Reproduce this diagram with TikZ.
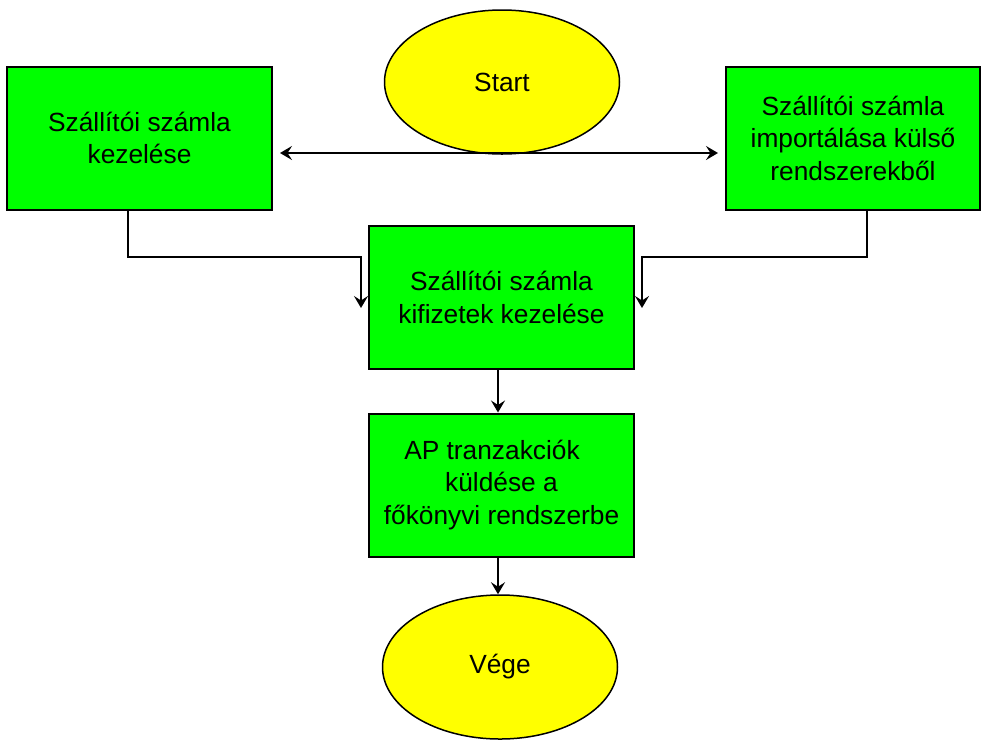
\documentclass[tikz,border=0pt]{standalone}
\usepackage{fontspec}
\setmainfont{Liberation Sans}
\usetikzlibrary{arrows.meta,shapes.geometric}
\definecolor{boxgreen}{RGB}{0,255,0}
\definecolor{termyellow}{RGB}{255,255,0}
\begin{document}
\begin{tikzpicture}[x=1pt,y=-1pt,
  >={Stealth[length=12pt,width=14pt,inset=4.5pt]},
  proc/.style={draw=black, line width=2pt, fill=boxgreen, align=center,
    minimum width=264pt, minimum height=143pt, inner sep=0pt,
    font=\fontsize{26.3}{32.5}\selectfont},
  term/.style={ellipse, draw=black, line width=1.5pt, fill=termyellow,
    minimum width=235pt, minimum height=144pt, inner sep=0pt,
    font=\fontsize{26.3}{32}\selectfont},
  conn/.style={line width=2pt, ->}]
\useasboundingbox (0,0) rectangle (982,740);

% terminators
\node[term] (start) at (502,82) {Start};
\node[term] (end) at (500,667) {Vége};

% process boxes
\node[proc, minimum width=265pt] (left) at (139.5,138) {Szállítói számla\\kezelése};
\node[proc, minimum width=254pt] (right) at (853,138) {Szállítói számla\\importálása külső\\rendszerekből};
\node[proc, minimum width=265pt] (mid) at (501.5,297.5) {Szállítói számla\\kifizetek kezelése};
\node[proc, minimum width=265pt] (ap) at (501.5,485) {AP tranzakciók\hspace*{19pt}\\küldése a\hspace*{19pt}\\főkönyvi rendszerbe};

% bend points of the feeder lines
\coordinate (lbend) at (361,257);
\coordinate (lin) at (361,308);
\coordinate (rbend) at (642,257);
\coordinate (rin) at (642,308);

% link between the two entry boxes
\draw[line width=2pt, <->] ([xshift=7pt,yshift=-15pt]left.east) -- ([xshift=-7pt,yshift=-15pt]right.west);

% feeders into the payment box
\draw[conn] ([xshift=-11.5pt]left.south) |- (lbend) -- (lin);
\draw[conn] ([xshift=14pt]right.south) |- (rbend) -- (rin);

% main flow
\draw[conn] ([xshift=-3.5pt]mid.south) -- ([xshift=-3.5pt]ap.north);
\draw[conn] ([xshift=-3.5pt]ap.south) -- ([xshift=-2pt]end.north);
\end{tikzpicture}
\end{document}
